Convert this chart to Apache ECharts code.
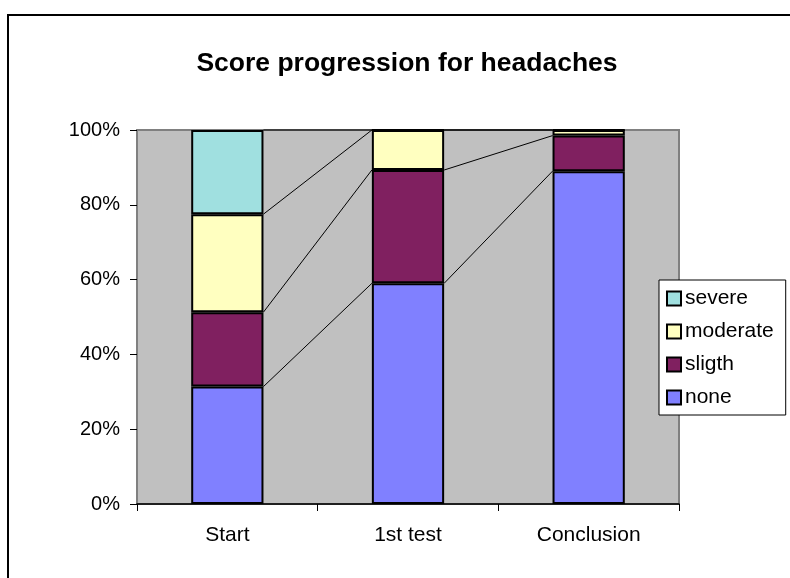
<!DOCTYPE html>
<html>
<head>
<meta charset="utf-8">
<script src="https://cdn.jsdelivr.net/npm/echarts@6/dist/echarts.min.js"></script>
<style>html,body{margin:0;padding:0;background:#fff}#c{width:790px;height:578px}</style>
</head>
<body>
<div id="c"></div>
<script>
var categories = ['Start', '1st test', 'Conclusion'];
var noneVals = [31.4, 59.0, 89.0];
var sligthVals = [19.9, 30.3, 9.5];
var moderateVals = [26.2, 10.7, 1.5];
var severeVals = [22.5, 0, 0];
var seriesNames = ['none', 'sligth', 'moderate', 'severe'];
var legendOrder = ['severe', 'moderate', 'sligth', 'none'];
var yTicks = [0, 20, 40, 60, 80, 100];

var FONT = '"Liberation Sans", Arial, sans-serif';
var colors = { none: '#8080FF', sligth: '#802060', moderate: '#FFFFC0', severe: '#A0E0E0' };
var stacks = [noneVals, sligthVals, moderateVals, severeVals];

// series line segments between adjacent bars, from cumulative tops
var lineData = [];
for (var i = 0; i < categories.length - 1; i++) {
  var c1 = 0, c2 = 0;
  for (var k = 0; k < stacks.length; k++) {
    c1 += stacks[k][i];
    c2 += stacks[k][i + 1];
    lineData.push([i, c1, c2]);
  }
}

var chart = echarts.init(document.getElementById('c'), null, { renderer: 'canvas' });
var barSeries = seriesNames.map(function (n, idx) {
  return {
    name: n, type: 'bar', stack: 'total', barWidth: '40%',
    data: stacks[idx],
    itemStyle: { color: colors[n], borderColor: '#000', borderWidth: 2 },
    z: 3
  };
});
barSeries.push({
  type: 'custom', name: 'serieslines', silent: true, z: 2,
  data: lineData,
  encode: { x: 0, y: 1 },
  renderItem: function (params, api) {
    var i = api.value(0);
    var p1 = api.coord([i, api.value(1)]);
    var p2 = api.coord([i + 1, api.value(2)]);
    var band = api.size([1, 0])[0];
    return {
      type: 'line',
      shape: { x1: p1[0] + band * 0.2, y1: p1[1], x2: p2[0] - band * 0.2, y2: p2[1] },
      style: { stroke: '#000', lineWidth: 1 }
    };
  }
});

chart.setOption({
  animation: false,
  textStyle: { fontFamily: FONT },
  title: {
    text: 'Score progression for headaches',
    left: 402, top: 45, textAlign: 'center',
    textStyle: { fontFamily: FONT, fontSize: 26.5, fontWeight: 'bold', color: '#000' }
  },
  graphic: [{
    type: 'rect', shape: { x: 8, y: 15, width: 820, height: 620 },
    style: { fill: 'none', stroke: '#000', lineWidth: 2 }, z: 100
  }],
  grid: {
    left: 137, top: 130, right: 111, bottom: 74, show: true,
    backgroundColor: '#C0C0C0', borderColor: '#808080', borderWidth: 2
  },
  legend: {
    data: legendOrder, orient: 'vertical', left: 659, top: 280,
    padding: [8, 12, 7, 7],
    backgroundColor: '#fff', borderColor: '#000', borderWidth: 1,
    itemWidth: 14, itemHeight: 14, itemGap: 12, icon: 'rect',
    itemStyle: { borderColor: '#000', borderWidth: 2 },
    textStyle: { fontFamily: FONT, fontSize: 21, color: '#000', padding: [0, 0, 0, -1] }
  },
  xAxis: {
    type: 'category', data: categories,
    axisLine: { lineStyle: { color: '#000', width: 1.5 } },
    axisTick: { show: true, length: 7, lineStyle: { color: '#000' } },
    axisLabel: { fontFamily: FONT, fontSize: 21, color: '#000', margin: 21 },
    splitLine: { show: false }
  },
  yAxis: {
    type: 'value', min: 0, max: 100, interval: 20,
    axisLine: { show: true, lineStyle: { color: '#808080', width: 1.5 } },
    axisTick: { show: true, length: 7, lineStyle: { color: '#000' } },
    axisLabel: { fontFamily: FONT, fontSize: 20, color: '#000', margin: 17,
      formatter: function (v) { return yTicks.indexOf(v) >= 0 ? v + '%' : ''; } },
    splitLine: { show: false }
  },
  series: barSeries
});
</script>
</body>
</html>
